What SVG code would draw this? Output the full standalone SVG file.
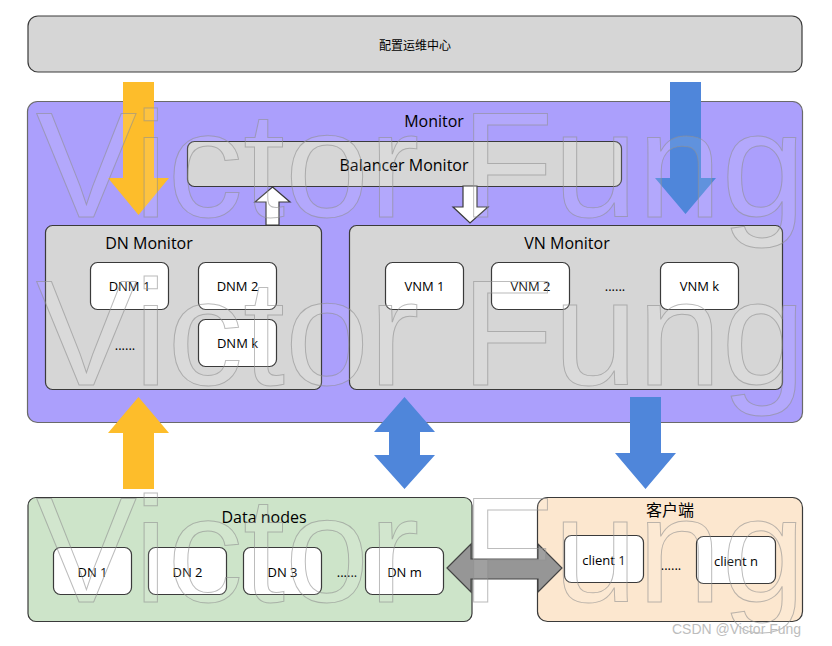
<svg xmlns="http://www.w3.org/2000/svg" width="832" height="646" viewBox="0 0 832 646">
<style>
.box{stroke:#3a3a3a;stroke-width:1.2}
.gray{fill:#d6d6d6}
.wbox{fill:#ffffff;stroke:#3a3a3a;stroke-width:1.2}
.t{font-family:"Open Sans","Noto Sans","Liberation Sans",sans-serif;fill:#000;text-anchor:middle}
.lg{font-size:16px}
.sm{font-size:13px}
.cjk{font-family:"Noto Sans CJK SC","Noto Sans",sans-serif;fill:#000;text-anchor:middle}
.wm{font-family:"Liberation Sans",Arial,sans-serif;font-size:151px;fill:#ffffff;fill-opacity:0.1;stroke:#909090;stroke-opacity:0.6;stroke-width:1}
.yel{fill:#fdbd2b}
.blu{fill:#4f86da}
</style>
<rect width="832" height="646" fill="#ffffff"/>

<g id="ops-center">
<rect class="box gray" x="28" y="16" width="774" height="56" rx="10"/>
<text class="cjk" x="415" y="49.5" font-size="12">配置运维中心</text>
</g>

<g id="monitor">
<rect x="27.5" y="101.5" width="775" height="321" rx="10" fill="#ab9ffc" stroke="#6a6a6a" stroke-width="1.2"/>
<text class="t lg" x="434" y="127">Monitor</text>
</g>

<g id="balancer-monitor">
<rect class="box gray" x="187.5" y="141.5" width="434" height="45" rx="7"/>
<text class="t lg" x="404" y="171">Balancer Monitor</text>
</g>

<g id="dn-monitor">
<rect class="box gray" x="45.5" y="225.5" width="276" height="164" rx="7"/>
<text class="t lg" x="149" y="249">DN Monitor</text>
</g>
<g id="dnm1"><rect class="wbox" x="90.5" y="262.5" width="78" height="47" rx="7"/><text class="t sm" x="129.5" y="291">DNM 1</text></g>
<g id="dnm2"><rect class="wbox" x="198.5" y="262.5" width="78" height="47" rx="7"/><text class="t sm" x="237.5" y="291">DNM 2</text></g>
<g id="dnmk"><rect class="wbox" x="198.5" y="319.5" width="78" height="47" rx="7"/><text class="t sm" x="237.5" y="348">DNM k</text></g>
<text class="t sm" x="125" y="350">......</text>

<g id="vn-monitor">
<rect class="box gray" x="349.5" y="225.5" width="433" height="164" rx="7"/>
<text class="t lg" x="567" y="249">VN Monitor</text>
</g>
<g id="vnm1"><rect class="wbox" x="385.5" y="262.5" width="78" height="47" rx="7"/><text class="t sm" x="424.5" y="291">VNM 1</text></g>
<g id="vnm2"><rect class="wbox" x="491.5" y="262.5" width="78" height="47" rx="7"/><text class="t sm" x="530.5" y="291">VNM 2</text></g>
<g id="vnmk"><rect class="wbox" x="660.5" y="262.5" width="78" height="47" rx="7"/><text class="t sm" x="699.5" y="291">VNM k</text></g>
<text class="t sm" x="615" y="291">......</text>

<g id="data-nodes">
<rect x="28" y="497.5" width="444" height="124" rx="8" fill="#cde4c9" stroke="#3a3a3a" stroke-width="1.2"/>
<text class="t lg" x="264" y="523">Data nodes</text>
</g>
<g id="dn1"><rect class="wbox" x="53.5" y="547.5" width="78" height="47" rx="7"/><text class="t sm" x="92.5" y="577">DN 1</text></g>
<g id="dn2"><rect class="wbox" x="148.5" y="547.5" width="78" height="47" rx="7"/><text class="t sm" x="187.5" y="577">DN 2</text></g>
<g id="dn3"><rect class="wbox" x="243.5" y="547.5" width="78" height="47" rx="7"/><text class="t sm" x="282.5" y="577">DN 3</text></g>
<g id="dnm"><rect class="wbox" x="365.5" y="547.5" width="78" height="47" rx="7"/><text class="t sm" x="404.5" y="577">DN m</text></g>
<text class="t sm" x="347" y="577">......</text>

<g id="client">
<rect x="537.5" y="497.5" width="265" height="124" rx="10" fill="#fce7cf" stroke="#3a3a3a" stroke-width="1.2"/>
<text class="cjk" x="670" y="516" font-size="16">客户端</text>
</g>
<g id="client1"><rect class="wbox" x="564.5" y="535.5" width="79" height="47" rx="7"/><text class="t sm" x="604" y="565">client 1</text></g>
<g id="clientn"><rect class="wbox" x="696.5" y="536.5" width="79" height="47" rx="7"/><text class="t sm" x="736" y="566">client n</text></g>
<text class="t sm" x="671" y="570">......</text>

<g id="connectors">
<polygon class="yel" points="123,82 154,82 154,178 169,178 138.5,215 108,178 123,178"/>
<polygon class="yel" points="138.5,397 169,433 154,433 154,489 123,489 123,433 108,433"/>
<polygon class="blu" points="670,82 701,82 701,178 716,178 685.5,214 655,178 670,178"/>
<polygon class="blu" points="404.5,397 435,432 420,432 420,455 435,455 404.5,489 374,455 389,455 389,432 374,432"/>
<polygon class="blu" points="630,397 661,397 661,453 676,453 645.5,489 615,453 630,453"/>
<polygon points="272.5,187 290,202 279,202 279,225 266,225 266,202 255,202" fill="#ffffff" stroke="#3a3a3a" stroke-width="1.2"/>
<polygon points="463,186 477,186 477,207 488,207 470,223 453,207 463,207" fill="#ffffff" stroke="#3a3a3a" stroke-width="1.2"/>
<polygon points="447,568 471,544 471,559 538,559 538,544 562,568 538,592 538,579 471,579 471,592" fill="#969696" stroke="#444444" stroke-width="1.2"/>
</g>

<g id="watermark">
<text class="wm" x="36" y="217">Victor Fung</text>
<text class="wm" x="36" y="385">Victor Fung</text>
<text class="wm" x="36" y="602">Victor Fung</text>
<text x="672" y="634" font-family="Liberation Sans,Arial,sans-serif" font-size="14" fill="#bdbdbd">CSDN @Victor Fung</text>
</g>
</svg>
